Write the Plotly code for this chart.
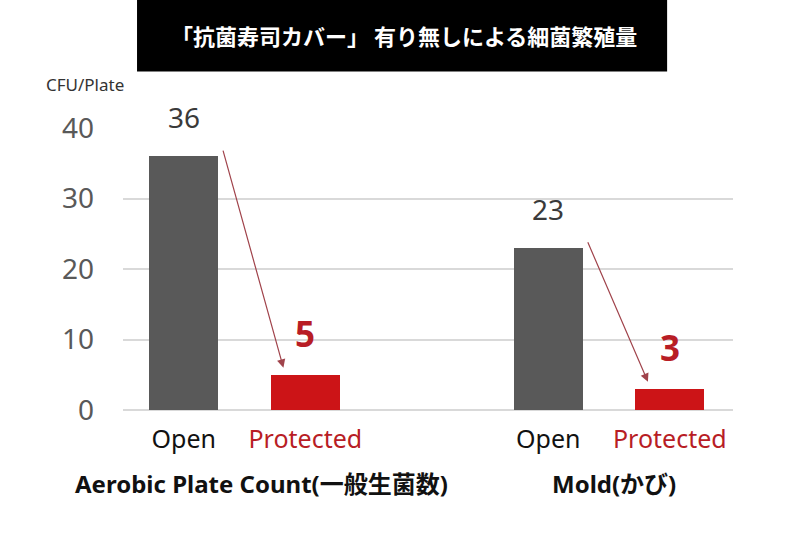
import plotly.graph_objects as go

# ---- data ----
groups = ["Aerobic Plate Count(一般生菌数)", "Mold(かび)"]
conditions = ["Open", "Protected"]
open_values = [36, 23]
protected_values = [5, 3]
y_ticks = [0, 10, 20, 30, 40]
title_text = "「抗菌寿司カバー」 有り無しによる細菌繁殖量"
y_unit = "CFU/Plate"

GREY = "#595959"
RED = "#cc1417"
LABEL_RED = "#b81d25"
FONT = "Noto Sans, Noto Sans CJK JP, sans-serif"

# positions: each group occupies 3 slots (two bars + gap)
open_x = [g * 3 for g in range(len(groups))]
prot_x = [g * 3 + 1 for g in range(len(groups))]

fig = go.Figure()
fig.add_trace(go.Bar(x=open_x, y=open_values, width=0.57, marker_color=GREY,
                     marker_line_width=0, showlegend=False))
fig.add_trace(go.Bar(x=prot_x, y=protected_values, width=0.57, marker_color=RED,
                     marker_line_width=0, showlegend=False))

annotations = []
# grey value labels above open bars
for x, v in zip(open_x, open_values):
    annotations.append(dict(x=x, y=v, xref="x", yref="y", text=str(v),
                            showarrow=False, yanchor="bottom", yshift=18,
                            font=dict(size=28, color="#3a3a3a", family=FONT)))
# bold red value labels above protected bars
for x, v in zip(prot_x, protected_values):
    annotations.append(dict(x=x, y=v, xref="x", yref="y", text=f"<b>{v}</b>",
                            showarrow=False, yanchor="bottom", yshift=16,
                            font=dict(size=35, color=LABEL_RED, family=FONT)))
# arrows from open bar to protected bar
for ox, ov, px, pv in zip(open_x, open_values, prot_x, protected_values):
    annotations.append(dict(x=px - 0.18, y=pv + 1.0, ax=ox + 0.32, ay=ov + 1.0,
                            xref="x", yref="y", axref="x", ayref="y",
                            text="", showarrow=True, arrowhead=2, arrowsize=1.4,
                            arrowwidth=1.2, arrowcolor="#a0434b"))
# group labels
for g, name in enumerate(groups):
    annotations.append(dict(x=g * 3 + 0.5 + (0.14 if g == 0 else 0.04), y=0,
                            xref="x", yref="y", text=f"<b>{name}</b>",
                            showarrow=False, yanchor="top", yshift=-55,
                            font=dict(size=24, color="#111111", family=FONT)))
# y unit label
annotations.append(dict(x=0, y=1, xref="paper", yref="paper", text=y_unit,
                        showarrow=False, xanchor="right", yanchor="bottom",
                        xshift=3, yshift=30,
                        font=dict(size=17, color="#333333", family=FONT)))
# title
annotations.append(dict(x=0.46, y=1.33, xref="paper", yref="paper",
                        text=f"<b>{title_text}</b>", showarrow=False,
                        xanchor="center", yanchor="middle",
                        font=dict(size=22, color="white", family="Noto Sans CJK JP")))

tick_texts = []
tick_vals = []
for g in range(len(groups)):
    tick_vals += [g * 3, g * 3 + 1]
    tick_texts += [conditions[0], f"<span style='color:{LABEL_RED}'>{conditions[1]}</span>"]

fig.update_layout(
    width=800, height=533,
    margin=dict(l=123, r=67, t=128, b=123),
    plot_bgcolor="white", paper_bgcolor="white",
    annotations=annotations,
    shapes=[dict(type="rect", xref="paper", yref="paper",
                 x0=0.023, x1=0.892, y0=1.2, y1=1.46,
                 fillcolor="black", line_width=0, layer="above")],
    xaxis=dict(range=[-0.5, 4.52], tickvals=tick_vals, ticktext=tick_texts,
               showgrid=False, zeroline=False, showline=False, ticks="",
               ticklabelstandoff=12,
               tickfont=dict(size=25, color="#111111", family=FONT)),
    yaxis=dict(range=[0, 40], tickvals=y_ticks, showgrid=True,
               gridcolor="#d9d9d9", gridwidth=1.5, zeroline=True,
               zerolinecolor="#d9d9d9", zerolinewidth=1.5,
               showline=False, ticks="", ticklabelstandoff=28,
               tickfont=dict(size=28, color=GREY, family=FONT)),
    bargap=0,
)

fig.write_html("out.html")
